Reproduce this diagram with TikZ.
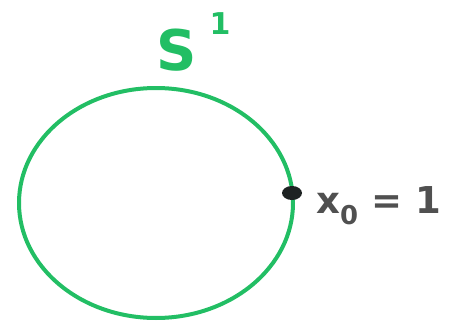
\documentclass[tikz,border=0pt]{standalone}
\usepackage{fontspec}
\setmainfont{DejaVu Sans}
\definecolor{penG}{RGB}{34,190,100}
\definecolor{penK}{RGB}{80,80,80}
\definecolor{dotK}{RGB}{30,35,35}
\tikzset{
  curve/.style={draw=penG, line width=4pt, line cap=round, line join=round},
  glabel/.style={text=penG, font=\bfseries\fontsize{56}{56}\selectfont, inner sep=0pt},
  klabel/.style={text=penK, font=\bfseries\fontsize{37}{37}\selectfont, inner sep=0pt, anchor=west},
  basept/.style={fill=dotK, ellipse, minimum width=20pt, minimum height=14pt, inner sep=0pt}
}
\usetikzlibrary{shapes.geometric}
\begin{document}
\begin{tikzpicture}[x=1pt,y=-1pt]
\useasboundingbox (0,0) rectangle (458,329);
\draw[curve] (156,203) ellipse [x radius=137, y radius=115];
\node[basept] (x0) at (292,193) {};
\node[glabel] (S) at (177,50) {S};
\node[text=penG, font=\bfseries\fontsize{30}{30}\selectfont, inner sep=0pt] (sup) at (220,24) {1};
\node[klabel] (lab) at (316,206) {x\textsubscript{0} = 1};
\end{tikzpicture}
\end{document}
